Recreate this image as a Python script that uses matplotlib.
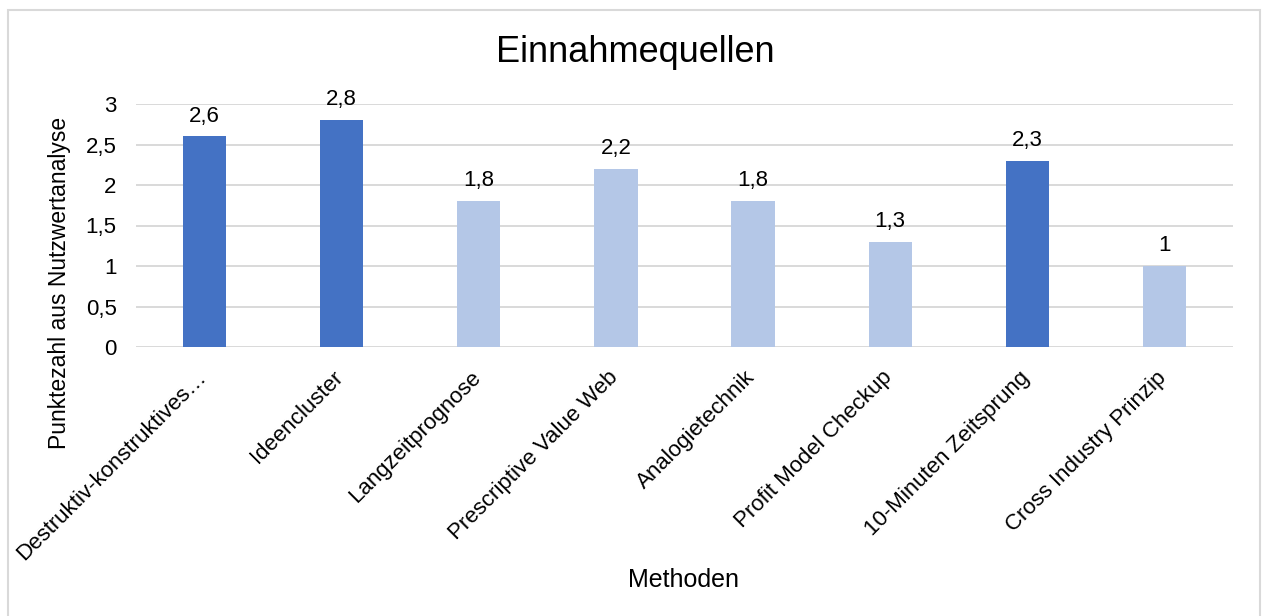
import matplotlib
matplotlib.use("Agg")
import matplotlib.pyplot as plt
from matplotlib.patches import Rectangle
from matplotlib.transforms import ScaledTranslation

plt.rcParams['font.family'] = ['Liberation Sans', 'DejaVu Sans']

categories = ["Destruktiv-konstruktives…", "Ideencluster", "Langzeitprognose",
              "Prescriptive Value Web", "Analogietechnik", "Profit Model Checkup",
              "10-Minuten Zeitsprung", "Cross Industry Prinzip"]
values = [2.6, 2.8, 1.8, 2.2, 1.8, 1.3, 2.3, 1.0]
highlighted = [True, True, False, False, False, False, True, False]
y_ticks = [0, 0.5, 1, 1.5, 2, 2.5, 3]

dark = "#4472C4"
light = "#B4C7E7"
grid_color = "#D9D9D9"
text_color = "#000000"
fs = 16

W, H = 1263, 616
fig = plt.figure(figsize=(W / 100, H / 100), dpi=100)
ax = fig.add_axes([136 / W, 1 - 347 / H, (1233 - 136) / W, (347 - 104) / H])

def fmt(v):
    s = f"{v:g}"
    return s.replace(".", ",")

colors = [dark if h else light for h in highlighted]
x = list(range(len(categories)))
bars = ax.bar(x, values, width=0.315, color=colors, zorder=3)

for xi, v in zip(x, values):
    ax.annotate(fmt(v), (xi, v), xytext=(0, 7), textcoords="offset points",
                ha="center", va="bottom", fontsize=fs, color=text_color)

ax.set_xlim(-0.5, len(categories) - 0.5)
ax.set_ylim(0, 3)
ax.set_yticks(y_ticks)
ax.set_yticklabels([fmt(t) for t in y_ticks], fontsize=fs, color=text_color)
ax.set_xticks(x)
ax.set_xticklabels([])

# rotated category labels, anchored just below each category position
label_tf = ax.get_xaxis_transform() + ScaledTranslation(6 / 100, -20 / 100,
                                                        fig.dpi_scale_trans)
for xi, name in zip(x, categories):
    ax.text(xi, 0, name, transform=label_tf, rotation=45, ha="right",
            va="top", fontsize=fs, color=text_color, clip_on=False)

ax.tick_params(axis="both", length=0)
ax.tick_params(axis="y", pad=14)
ax.yaxis.grid(True, color=grid_color, linewidth=1.4, zorder=0)
ax.set_axisbelow(True)
for s in ax.spines.values():
    s.set_visible(False)

fig.text(635 / W, 1 - 52 / H, "Einnahmequellen", ha="center", va="center",
         fontsize=26, color=text_color)
fig.text(60 / W, 1 - 283 / H, "Punktezahl aus Nutzwertanalyse", rotation=90,
         ha="center", va="center", fontsize=16.5, color=text_color)
fig.text(684 / W, 1 - 580 / H, "Methoden", ha="center", va="center",
         fontsize=18, color=text_color)

fig.patches.append(Rectangle((8 / W, -0.05), (1260 - 8) / W, 1.05 - 10 / H,
                             transform=fig.transFigure, fill=False,
                             edgecolor="#D9D9D9", linewidth=1.5))

fig.savefig("out.png", dpi=100, facecolor="white")
